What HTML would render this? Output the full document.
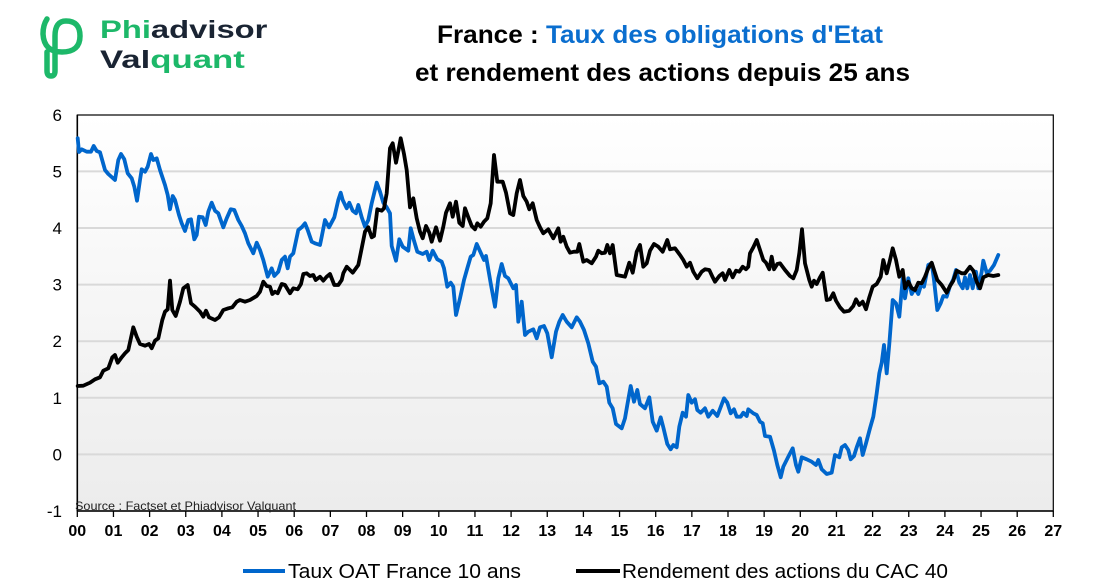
<!DOCTYPE html>
<html><head><meta charset="utf-8"><style>
html,body{margin:0;padding:0;background:#fff;width:1104px;height:585px;overflow:hidden}
svg{display:block}
text{font-family:"Liberation Sans",Arial,sans-serif}
</style></head><body>
<svg width="1104" height="585" viewBox="0 0 1104 585" xmlns="http://www.w3.org/2000/svg">
<defs>
<linearGradient id="bg" x1="0" y1="0" x2="0" y2="1">
<stop offset="0" stop-color="#ffffff"/><stop offset="1" stop-color="#ececec"/>
</linearGradient>
</defs>
<!-- logo -->
<path d="M47,19 Q43,25 43,34 Q44,52 62,52 Q80,52 80,36 Q80,21 66,21 Q55,21 55,36 L55,71 Q55,76 51,76 Q47,76 47,71 L47,52" fill="none" stroke="#1DB869" stroke-width="5.5" stroke-linecap="round" stroke-linejoin="round"/>
<text transform="translate(100,38) scale(1.31,1)" x="0" y="0" font-size="25" font-weight="bold"><tspan fill="#1DB869">Phi</tspan><tspan fill="#1a2433">advisor</tspan></text>
<text transform="translate(100,68) scale(1.39,1)" x="0" y="0" font-size="25" font-weight="bold"><tspan fill="#1a2433">Val</tspan><tspan fill="#1DB869">quant</tspan></text>
<!-- title -->
<text x="437" y="43" font-size="25" font-weight="bold" textLength="446" lengthAdjust="spacingAndGlyphs"><tspan fill="#000">France : </tspan><tspan fill="#0A6ECF">Taux des obligations d'Etat</tspan></text>
<text x="415" y="81" font-size="25" font-weight="bold" fill="#000" textLength="495" lengthAdjust="spacingAndGlyphs">et rendement des actions depuis 25 ans</text>
<!-- plot area -->
<rect x="77.3" y="115" width="976" height="396" fill="url(#bg)"/>
<g stroke="#d9d9d9" stroke-width="2">
<line x1="77.3" x2="1053.3" y1="171.4" y2="171.4"/>
<line x1="77.3" x2="1053.3" y1="228" y2="228"/>
<line x1="77.3" x2="1053.3" y1="284.6" y2="284.6"/>
<line x1="77.3" x2="1053.3" y1="341.2" y2="341.2"/>
<line x1="77.3" x2="1053.3" y1="397.8" y2="397.8"/>
<line x1="77.3" x2="1053.3" y1="454.4" y2="454.4"/>
</g>
<rect x="77.3" y="115" width="976" height="396" fill="none" stroke="#000" stroke-width="1.2"/>
<line x1="77.3" x2="1053.3" y1="511" y2="511" stroke="#000" stroke-width="1.6"/>
<line x1="77.3" x2="77.3" y1="115" y2="511" stroke="#000" stroke-width="1.6"/>
<!-- ticks -->
<g stroke="#000" stroke-width="1.3">
<line x1="77.3" x2="77.3" y1="511" y2="517"/><line x1="113.45" x2="113.45" y1="511" y2="517"/><line x1="149.6" x2="149.6" y1="511" y2="517"/><line x1="185.75" x2="185.75" y1="511" y2="517"/><line x1="221.9" x2="221.9" y1="511" y2="517"/><line x1="258.05" x2="258.05" y1="511" y2="517"/><line x1="294.2" x2="294.2" y1="511" y2="517"/><line x1="330.35" x2="330.35" y1="511" y2="517"/><line x1="366.5" x2="366.5" y1="511" y2="517"/><line x1="402.65" x2="402.65" y1="511" y2="517"/><line x1="438.8" x2="438.8" y1="511" y2="517"/><line x1="474.95" x2="474.95" y1="511" y2="517"/><line x1="511.1" x2="511.1" y1="511" y2="517"/><line x1="547.25" x2="547.25" y1="511" y2="517"/><line x1="583.4" x2="583.4" y1="511" y2="517"/><line x1="619.55" x2="619.55" y1="511" y2="517"/><line x1="655.7" x2="655.7" y1="511" y2="517"/><line x1="691.85" x2="691.85" y1="511" y2="517"/><line x1="728" x2="728" y1="511" y2="517"/><line x1="764.15" x2="764.15" y1="511" y2="517"/><line x1="800.3" x2="800.3" y1="511" y2="517"/><line x1="836.45" x2="836.45" y1="511" y2="517"/><line x1="872.6" x2="872.6" y1="511" y2="517"/><line x1="908.75" x2="908.75" y1="511" y2="517"/><line x1="944.9" x2="944.9" y1="511" y2="517"/><line x1="981.05" x2="981.05" y1="511" y2="517"/><line x1="1017.2" x2="1017.2" y1="511" y2="517"/><line x1="1053.3" x2="1053.3" y1="511" y2="517"/>
</g>
<!-- x labels -->
<g font-size="16" font-weight="bold" fill="#000" text-anchor="middle">
<text x="77.3" y="536">00</text><text x="113.45" y="536">01</text><text x="149.6" y="536">02</text><text x="185.75" y="536">03</text><text x="221.9" y="536">04</text><text x="258.05" y="536">05</text><text x="294.2" y="536">06</text><text x="330.35" y="536">07</text><text x="366.5" y="536">08</text><text x="402.65" y="536">09</text><text x="438.8" y="536">10</text><text x="474.95" y="536">11</text><text x="511.1" y="536">12</text><text x="547.25" y="536">13</text><text x="583.4" y="536">14</text><text x="619.55" y="536">15</text><text x="655.7" y="536">16</text><text x="691.85" y="536">17</text><text x="728" y="536">18</text><text x="764.15" y="536">19</text><text x="800.3" y="536">20</text><text x="836.45" y="536">21</text><text x="872.6" y="536">22</text><text x="908.75" y="536">23</text><text x="944.9" y="536">24</text><text x="981.05" y="536">25</text><text x="1017.2" y="536">26</text><text x="1053.3" y="536">27</text>
</g>
<!-- y labels -->
<g font-size="17" fill="#000" text-anchor="end">
<text x="62" y="121">6</text><text x="62" y="177.5">5</text><text x="62" y="234">4</text><text x="62" y="290.6">3</text><text x="62" y="347.2">2</text><text x="62" y="403.8">1</text><text x="62" y="460.4">0</text><text x="62" y="517">-1</text>
</g>
<!-- series -->
<polyline fill="none" stroke="#0066CC" stroke-width="3.8" stroke-linejoin="round" stroke-linecap="round" points="77.7,138.3 79,152 81.7,149.3 86.7,151.7 91,151.7 93.7,146 96.7,151 100,152.3 105,170 108.3,174 115,180 118.3,160 121,154 124.3,159.3 127.7,173.3 131.7,178.3 134.3,186.7 137,200.7 140,180 141.7,169.3 145,171.7 147.7,166.7 151,154 153.3,160 156.7,158.3 160,170 165,185 167.7,195 170,209.3 172.7,196 175,200 179,215 181.7,223.3 185,231 188.3,220 191,219.3 194.3,239.3 196.7,235 199,216.7 202.7,217.3 205.7,225 208.3,211.7 211.7,202.7 215,210.7 218.3,213.3 223.3,227.3 226.7,218.3 230.7,209.3 234.3,210 238.3,220 241.7,226 245,233.3 248.3,243.3 253.3,253.3 256.7,242.7 260,250 263.3,260 267.7,276.7 271.7,268.3 274.3,276 278.3,271.7 281.7,260 285,256.7 287.7,268.3 290,256.7 293.3,253.3 298.3,230 301.7,227.3 305,223.3 307.7,230 311.7,241.7 315,243.3 320,245 321.7,236.7 325,220 329,227.3 334.3,217.3 338.3,200 340.7,192.7 342.7,200 346.7,208.3 349.3,202.7 352.7,210.7 356,213.3 358.3,205 361.7,217.3 365,226.7 368.3,220 371.7,203.3 376.7,182.7 380,191.7 383.3,202.7 386.7,207.3 390,213.3 391.7,246 396,260.7 399.3,239.3 402.7,246.7 408.3,250.7 410.7,228.3 414,240.7 417.3,251.7 422.7,254 426.7,251.7 429.3,260 432.7,250.7 437.3,259.3 441.7,261.7 444,268.3 447.3,286.7 450.7,282.7 453.3,286.7 456,315 460,298.3 464,280 467.3,268.3 470.7,256.7 473.3,255 476.7,244 480.7,252.7 484,260 486,256 490.7,283.3 495,306.7 498.3,278.3 501.7,264 505,276 508.3,278.3 513.3,288.3 516,285 518.3,321.7 521.7,301.7 525,335 528.3,331.7 533.3,329.3 536.7,338.3 540,327.3 544,326 547.3,333.3 551.7,357.3 556,331.7 559.3,321.7 562.7,315 566.7,321.7 571.7,327.3 576.7,317.3 580,321.7 584,330 588.3,343.3 592.7,361.7 596,366.7 599.3,383.3 603.3,381.7 606.7,386.7 609.3,402.7 612.7,408.3 616,424 621.7,428.3 625,418.3 627.3,405 630.7,386 634,401.7 637.3,390 640,404 645,408.3 649.3,397.3 652.7,421.7 656.7,430.7 660.7,417.3 663.3,427.3 667.3,444 670.7,449.3 673.3,445 676.7,447.3 679.3,426.7 682.7,412.7 686,416.7 688.3,395 691.7,402.7 695,399.3 697.3,410 700.7,412.7 705,408.3 708.3,416.7 712.7,410.7 717.3,416 724,398.3 727.3,402.7 730.7,413.3 734,409.3 736.7,416.7 740.7,416.7 743.3,412.7 746.7,416 748.3,409.3 753.3,413.3 756.7,415 760,421.7 762.7,423.3 765,436 770,436.7 774,450.7 777.3,465 780.7,477.3 783.3,466.7 788.3,456.7 792.7,448.3 796,465 798.3,471.7 801.7,457.3 806.7,459.3 811.7,461.7 816,465 818.3,460 821.7,469.3 826.7,474 831.7,472.7 835,455 839.3,457.3 841.7,447.3 845,445 848.3,450 850.7,459.3 854,456 856.7,447.3 860,438.3 862.7,455 866,443.3 870,428.3 873.3,416.7 876.7,393.3 879.3,373.3 881.7,362.7 884,345 886.7,373.3 889.3,344 892.7,300 896,303.3 899.3,316.7 902.7,278.3 905,298.3 908.3,278.3 911.7,294 915,288.3 918.3,294 921.7,283.3 924,286.7 928.3,265 931.7,263.3 934,280 937.3,310 940.7,303.3 943.3,296 946.7,296.7 950,286 953.3,279.3 956,270 959.3,282.7 962.7,288.3 965,277.3 967.3,288.3 970,275 972.7,288.3 976,271.7 978.3,288.3 981.7,271.7 983.3,260.7 986.7,272.7 990,270.7 994,265 998.3,255"/>
<polyline fill="none" stroke="#000" stroke-width="3.8" stroke-linejoin="round" stroke-linecap="round" points="77.7,386 83.3,385.7 90,382.7 95,379.3 100,377.3 103.3,370.7 108.3,368.3 112.3,357.3 115,355 117.7,362.7 121.7,357.3 125,353.3 128.3,350 133.3,327.3 136.7,336.7 140,344 145,345.7 149,344 151.7,348.3 155,340.7 158.3,338.3 162.3,320 165,311.7 167.7,309.3 170,280.7 172.3,310 175.7,316 180,301.7 183.3,288.3 187.7,285 191,303.3 195,306.7 200,311.7 203.3,316.7 206,310.7 209,317.3 215,320 219,317.3 223.3,310 228.3,308.3 232.3,307.3 236.7,301.7 240,300 245,301.7 250,300 256.7,296 260,291.7 263.3,281.7 266.7,286 270,286.7 272.3,294 275,291.7 277.7,293.3 281.7,284 285,285 290,293.3 293.3,288.3 297.7,289.3 301,284 303.3,274 306.7,273.3 310,276 313.3,275 315.7,280 320,276.7 323.3,280.7 326.7,276.7 330,274 334.3,285 338.3,285 341.7,280 343.3,273.3 346.7,266.7 352.7,272.7 358.3,265 361.7,248.3 365,231.7 368.3,227.3 371.7,237.3 374,236 377.3,209.3 381.7,210.7 384,208.3 386.7,193.3 390,148.3 392.7,143.3 396,162.7 399.3,146 400.7,138.3 404,154 406.7,170 410,207.3 413.3,198.3 416.7,218.3 420,231.7 422.7,238.3 426,226 429.3,232.7 431.7,241.7 436,227.3 440,240.7 443.3,226.7 446,212.7 450,203.3 452.7,216.7 456,201.7 459.3,222.7 462.7,226 465,208.3 468.3,217.3 471.7,226 475,229.3 477.3,223.3 480.7,226.7 484,221.7 487.3,218.3 490.7,203.3 494,155 497.3,181.7 502.7,181.7 506,192.7 510,213.3 513.3,215 516.7,193.3 520,180 523.3,196 526.7,201.7 529.3,209.3 532.7,203.3 536.7,220 540,227.3 543.3,233.3 548.3,229.3 553.3,238.3 558.3,228.3 560.7,241.7 563.3,236.7 566.7,246.7 570,252.7 574,251.7 577.3,251.7 579.3,244 583.3,261.7 586.7,260 591.7,263.3 596,256.7 598.3,250.7 601.7,253.3 605,252.7 607.3,245 610,253.3 612.7,245 616.7,275 621.7,276 625,276.7 629.3,262.7 632.7,272.7 636.7,251.7 640,245 643.3,266.7 646.7,263.3 650,250.7 654,244 658.3,246.7 662.7,251.7 667.3,240 670,249.3 675,248.3 680,255 683.3,260 686.7,266.7 690,262.7 693.3,271.7 697.3,278.3 701.7,271.7 705,269.3 709.3,270 712.7,277.3 715,281.7 719.3,276 722.7,273.3 725,280 729.3,270 732.7,277.3 736,270.7 739.3,271.7 742.7,266.7 746,269.3 748.3,266.7 750,253.3 753.3,247.3 756.7,240 760,250 763.3,260 766,262.7 769.3,269.3 771.7,256.7 774,269.3 777.3,264 780,263.3 785,270 790,276 793.3,278.3 796.7,270 799.3,253.3 802,229.3 805,263.3 809.3,280 811.7,286.7 814,280.7 816.7,284 820,277.3 822.7,272.7 826.7,300 830,299.3 833.3,293.3 836,300.7 840,307.3 844,311.7 849.3,310.7 853.3,306 856,299.3 859.3,305 862.7,301.7 866,309.3 869.3,297.3 872.7,286.7 876.7,284 880.7,276.7 883.3,260 886.7,273.3 890,260 892.7,248.3 896,260 899.3,276.7 902.7,270 905,288.3 908.3,281.7 911.7,288.3 915,290 918.3,282.7 921.7,283.3 925,276.7 928.3,268.3 931.7,262.7 934,270 937.3,280 941.7,285 946.7,292.7 950,286 953.3,280.7 956.7,270.7 961.7,273.3 965,273.3 970,266.7 973.3,270.7 976.7,281.7 980,288.3 983.3,277.3 988.3,275 993.3,276 998.3,275"/>
<!-- source -->
<text x="75" y="510" font-size="12" fill="#222" textLength="221" lengthAdjust="spacingAndGlyphs">Source : Factset et Phiadvisor Valquant</text>
<!-- legend -->
<line x1="243" x2="285" y1="571" y2="571" stroke="#0066CC" stroke-width="4"/>
<text x="288" y="578" font-size="20" fill="#000" textLength="233" lengthAdjust="spacingAndGlyphs">Taux OAT France 10 ans</text>
<line x1="576" x2="620" y1="571" y2="571" stroke="#000" stroke-width="4"/>
<text x="622" y="578" font-size="20" fill="#000" textLength="326" lengthAdjust="spacingAndGlyphs">Rendement des actions du CAC 40</text>
</svg>
</body></html>
